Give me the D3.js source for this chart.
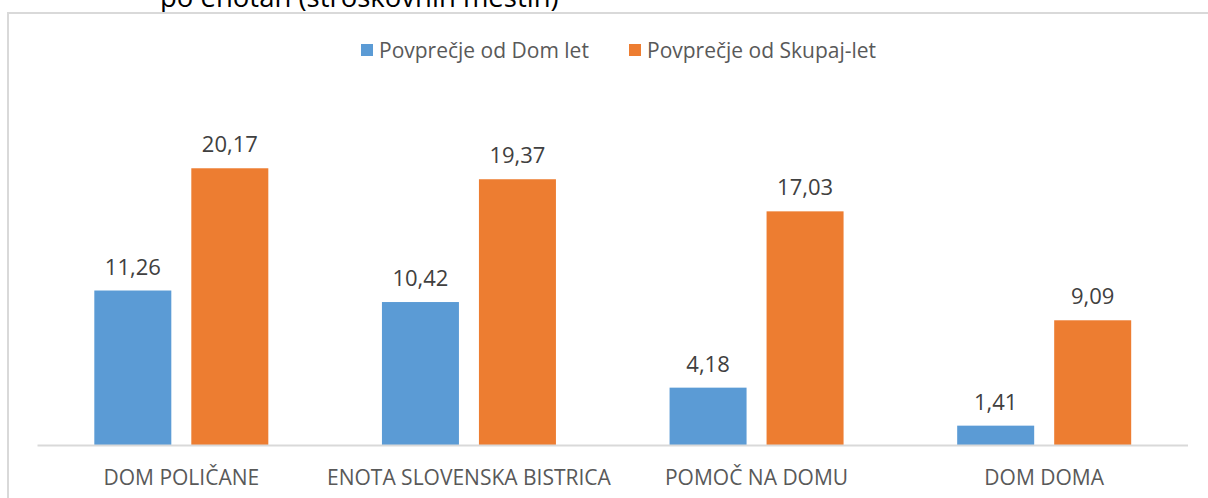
<!DOCTYPE html>
<html>
<head>
<meta charset="utf-8">
<script src="https://cdn.jsdelivr.net/npm/d3@7"></script>
<style>
  html, body { margin: 0; padding: 0; background: #fff; }
  svg { display: block; font-family: "Open Sans", sans-serif; }
</style>
</head>
<body>
<svg id="chart" width="1208" height="498"></svg>
<script>
const categories = ["DOM POLIČANE", "ENOTA SLOVENSKA BISTRICA", "POMOČ NA DOMU", "DOM DOMA"];
const seriesNames = ["Povprečje od Dom let", "Povprečje od Skupaj-let"];
const domLet = [11.26, 10.42, 4.18, 1.41];
const skupajLet = [20.17, 19.37, 17.03, 9.09];
const colors = ["#5B9BD5", "#ED7D31"];

const svg = d3.select("#chart");
const baseY = 445;

// title, cut at the top like in the original screenshot
svg.append("text")
  .attr("x", 160).attr("y", 7)
  .attr("font-size", 27.5).attr("fill", "#000")
  .text("po enotah (stroškovnih mestih)");

// chart area border
svg.append("rect")
  .attr("x", 8).attr("y", 13)
  .attr("width", 1220).attr("height", 520)
  .attr("fill", "none").attr("stroke", "#d9d9d9").attr("stroke-width", 2);

const x = d3.scaleBand().domain(categories).range([37.5, 1188]);
const groupW = 174;
const xSub = d3.scaleBand().domain(seriesNames).range([0, groupW]).paddingInner(20 / 97);
const y = d3.scaleLinear().domain([0, 25]).range([baseY, baseY - 25 * 13.72]);

const rows = categories.map((c, i) => ({ cat: c, vals: [domLet[i], skupajLet[i]] }));

const groups = svg.append("g").selectAll("g")
  .data(rows).enter().append("g")
  .attr("transform", d => "translate(" + (x(d.cat) + (x.bandwidth() - groupW) / 2) + ",0)");

groups.selectAll("rect")
  .data(d => d.vals.map((v, j) => ({ name: seriesNames[j], v: v, j: j })))
  .enter().append("rect")
  .attr("x", d => xSub(d.name))
  .attr("width", xSub.bandwidth())
  .attr("y", d => y(d.v))
  .attr("height", d => baseY - y(d.v))
  .attr("fill", d => colors[d.j]);

groups.selectAll("text.val")
  .data(d => d.vals.map((v, j) => ({ name: seriesNames[j], v: v })))
  .enter().append("text")
  .attr("class", "val")
  .attr("x", d => xSub(d.name) + xSub.bandwidth() / 2)
  .attr("y", d => y(d.v) - 16)
  .attr("text-anchor", "middle")
  .attr("font-size", 22).attr("fill", "#404040")
  .text(d => d.v.toFixed(2).replace(".", ","));

// baseline
svg.append("line")
  .attr("x1", 37.5).attr("x2", 1188)
  .attr("y1", baseY + 0.5).attr("y2", baseY + 0.5)
  .attr("stroke", "#d9d9d9").attr("stroke-width", 2);

// category labels
const xAxis = d3.axisBottom(x).tickSize(0).tickPadding(0);
const ax = svg.append("g").attr("transform", "translate(0," + baseY + ")").call(xAxis);
ax.select(".domain").remove();
ax.selectAll("text")
  .attr("dy", null).attr("y", 40)
  .attr("font-family", "Open Sans").attr("font-size", 21).attr("fill", "#595959");

// legend
const legend = svg.append("g");
const legX = [361, 629];
seriesNames.forEach((n, i) => {
  legend.append("rect").attr("x", legX[i]).attr("y", 44).attr("width", 12).attr("height", 12).attr("fill", colors[i]);
  legend.append("text").attr("x", legX[i] + 18).attr("y", 58)
    .attr("font-size", 21).attr("fill", "#595959").text(n);
});
</script>
</body>
</html>
